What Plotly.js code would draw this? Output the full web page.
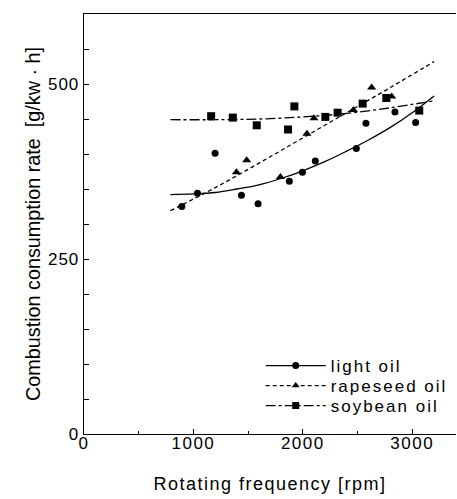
<!DOCTYPE html>
<html><head><meta charset="utf-8">
<script src="https://cdn.plot.ly/plotly-3.0.1.min.js"></script>
<style>
html,body{margin:0;padding:0;background:#fff}#chart{width:457px;height:499px}
#chart .xtick text{letter-spacing:1.5px}
#chart .ytick text{letter-spacing:1px}
#chart .xtitle{letter-spacing:1.5px}
</style>
</head><body><div id="chart"></div>
<script>
// measured points
const lightRpm  = [894, 1037, 1198, 1439, 1591, 1877, 1996, 2114, 2489, 2577, 2842, 3031];
const lightVal  = [325, 344, 401, 341, 329, 361, 374, 390, 408, 444, 460, 445];
const rapeRpm   = [1393, 1487, 1795, 2038, 2102, 2462, 2629, 2812];
const rapeVal   = [374, 391, 367, 429, 451, 463, 495, 482];
const soyRpm    = [1162, 1360, 1579, 1865, 1923, 2206, 2318, 2547, 2763, 3064];
const soyVal    = [454, 452, 441, 435, 468, 453, 459, 472, 480, 462];
// fitted curves
const lightFitRpm = [790, 1000, 1200, 1400, 1600, 1800, 2000, 2200, 2400, 2600, 2800, 3000, 3200];
const lightFitVal = [342, 343, 345, 350, 356, 365, 376, 389, 404, 420, 438, 459, 483];
const rapeFitRpm  = [790, 1200, 1600, 2000, 2400, 2800, 3200];
const rapeFitVal  = [319, 352, 387, 423, 459, 495, 532];
const soyFitRpm   = [790, 1200, 1600, 2000, 2400, 2800, 3200];
const soyFitVal   = [449, 449, 450, 453, 458, 466, 476];
const seriesNames = ['light oil', 'rapeseed oil', 'soybean oil'];

const blk = '#000';
const lightDash = 'solid', rapeDash = '4px,3px', soyDash = '10px,3px,3px,3px';
const traces = [
  {x: lightFitRpm, y: lightFitVal, mode: 'lines', line: {color: blk, width: 1.3, dash: lightDash, shape: 'spline'}, showlegend: false},
  {x: rapeFitRpm, y: rapeFitVal, mode: 'lines', line: {color: blk, width: 1.3, dash: rapeDash, shape: 'spline'}, showlegend: false},
  {x: soyFitRpm, y: soyFitVal, mode: 'lines', line: {color: blk, width: 1.3, dash: soyDash, shape: 'spline'}, showlegend: false},
  {x: lightRpm, y: lightVal, mode: 'markers', marker: {symbol: 'circle', size: 7, color: blk}, showlegend: false},
  {x: rapeRpm, y: rapeVal, mode: 'markers', marker: {symbol: 'triangle-up', size: 8, color: blk}, showlegend: false},
  {x: soyRpm, y: soyVal, mode: 'markers', marker: {symbol: 'square', size: 8, color: blk}, showlegend: false},
  {x: [null], y: [null], name: seriesNames[0], legend: 'legend', mode: 'lines+markers', line: {color: blk, width: 1.3, dash: lightDash}, marker: {symbol: 'circle', size: 7, color: blk}},
  {x: [null], y: [null], name: seriesNames[1], legend: 'legend2', mode: 'lines+markers', line: {color: blk, width: 1.3, dash: rapeDash}, marker: {symbol: 'triangle-up', size: 7, color: blk}},
  {x: [null], y: [null], name: seriesNames[2], legend: 'legend3', mode: 'lines+markers', line: {color: blk, width: 1.3, dash: soyDash}, marker: {symbol: 'square', size: 7, color: blk}}
];

const fam = 'Liberation Sans, Arial, sans-serif';
const legBase = {x: 0.475, xanchor: 'left', yanchor: 'middle', bgcolor: 'rgba(0,0,0,0)',
                 font: {family: fam, size: 17, color: blk}, itemwidth: 60};
const layout = {
  width: 457, height: 499,
  margin: {l: 84, r: 1, t: 14, b: 65},
  paper_bgcolor: '#fff', plot_bgcolor: '#fff',
  font: {family: fam, color: blk, size: 17},
  showlegend: true,
  legend: Object.assign({}, legBase, {y: 0.1619}),
  legend2: Object.assign({}, legBase, {y: 0.1143}),
  legend3: Object.assign({}, legBase, {y: 0.0667}),
  xaxis: {
    range: [0, 3400], tickvals: [0, 1000, 2000, 3000], ticks: 'inside', ticklen: 5, tickcolor: blk,
    minor: {tickvals: [500, 1500, 2500], ticks: 'inside', ticklen: 3, tickcolor: blk},
    showgrid: false, zeroline: false, showline: true, linecolor: blk, linewidth: 1.3, mirror: true,
    tickfont: {size: 17}, ticklabelstandoff: -7,
    title: {text: 'Rotating frequency [rpm]', font: {size: 18}, standoff: 25}
  },
  yaxis: {
    range: [0, 600], tickvals: [0, 250, 500], ticks: 'inside', ticklen: 5, tickcolor: blk,
    minor: {tickvals: [50, 100, 150, 200, 300, 350, 400, 450, 550], ticks: 'inside', ticklen: 5, tickcolor: blk},
    showgrid: false, zeroline: false, showline: true, linecolor: blk, linewidth: 1.3,
    tickfont: {size: 17}, title: {text: 'Combustion consumption rate  [g/kw · h]', font: {size: 19.8}, standoff: 5}
  }
};
Plotly.newPlot('chart', traces, layout, {staticPlot: true}).then(function (gd) {
  gd.querySelectorAll('.infolayer g[class^="legend"]').forEach(function (g) {
    g.querySelectorAll('[clip-path]').forEach(function (el) { el.removeAttribute('clip-path'); });
    g.querySelectorAll('text').forEach(function (t) { t.style.letterSpacing = '2px'; });
  });
});
</script></body></html>
